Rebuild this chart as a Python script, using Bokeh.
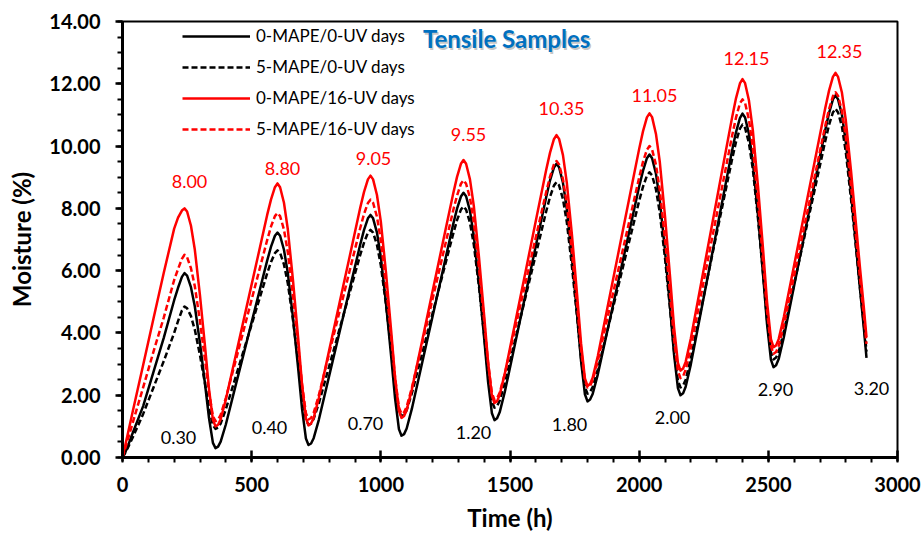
from bokeh.plotting import figure
from bokeh.models import (Range1d, FixedTicker, NumeralTickFormatter, Legend,
                          LegendItem, ColumnDataSource)
from bokeh.core.properties import value
from bokeh.embed import file_html
from bokeh.resources import INLINE

# ---------------- data ----------------
time_h = [
    0, 10, 20, 40, 80, 120, 160, 200, 215, 230, 240, 250, 265, 280, 300, 320, 335, 350,
    360, 370, 380, 400, 440, 480, 520, 560, 575, 590, 600, 610, 625, 640, 660, 680, 695, 710,
    720, 730, 740, 760, 800, 840, 880, 920, 935, 950, 960, 970, 985, 1000, 1020, 1040, 1055, 1070,
    1080, 1090, 1100, 1120, 1160, 1200, 1240, 1280, 1295, 1310, 1320, 1330, 1345, 1360, 1380, 1400, 1415, 1430,
    1440, 1450, 1460, 1480, 1520, 1560, 1600, 1640, 1655, 1670, 1680, 1690, 1705, 1720, 1740, 1760, 1775, 1790,
    1800, 1810, 1820, 1840, 1880, 1920, 1960, 2000, 2015, 2030, 2040, 2050, 2065, 2080, 2100, 2120, 2135, 2150,
    2160, 2170, 2180, 2200, 2240, 2280, 2320, 2360, 2375, 2390, 2400, 2410, 2425, 2440, 2460, 2480, 2495, 2510,
    2520, 2530, 2540, 2560, 2600, 2640, 2680, 2720, 2735, 2750, 2760, 2770, 2785, 2800, 2820, 2840, 2855, 2870,
    2880]

mape0_uv0 = [
    0, 0.15, 0.35, 0.80, 1.65, 2.75, 3.85, 5.05, 5.45, 5.80, 5.92, 5.84, 5.47, 4.85, 3.67, 2.32, 1.26, 0.47,
    0.30, 0.35, 0.51, 1.06, 2.38, 3.69, 5.01, 6.32, 6.77, 7.12, 7.22, 7.12, 6.67, 5.92, 4.49, 2.86, 1.56, 0.61,
    0.40, 0.45, 0.62, 1.21, 2.62, 4.02, 5.43, 6.83, 7.31, 7.68, 7.79, 7.68, 7.22, 6.44, 4.95, 3.25, 1.91, 0.91,
    0.70, 0.75, 0.93, 1.56, 3.04, 4.52, 6.00, 7.49, 7.99, 8.38, 8.50, 8.39, 7.92, 7.11, 5.58, 3.83, 2.44, 1.42,
    1.20, 1.26, 1.45, 2.11, 3.67, 5.23, 6.80, 8.36, 8.90, 9.31, 9.43, 9.32, 8.82, 7.98, 6.38, 4.55, 3.10, 2.03,
    1.80, 1.86, 2.04, 2.67, 4.18, 5.69, 7.19, 8.70, 9.21, 9.61, 9.73, 9.61, 9.11, 8.26, 6.64, 4.78, 3.31, 2.23,
    2.00, 2.06, 2.27, 2.99, 4.71, 6.43, 8.15, 9.87, 10.45, 10.90, 11.04, 10.92, 10.39, 9.49, 7.78, 5.83, 4.28, 3.14,
    2.90, 2.96, 3.16, 3.86, 5.52, 7.18, 8.84, 10.50, 11.06, 11.50, 11.63, 11.50, 11.00, 10.11, 8.51, 6.74, 5.39, 4.13,
    3.20]

mape5_uv0 = [
    0, 0.15, 0.30, 0.65, 1.40, 2.25, 3.10, 4.00, 4.38, 4.72, 4.85, 4.79, 4.54, 4.10, 3.28, 2.34, 1.59, 1.04,
    0.92, 0.96, 1.09, 1.55, 2.64, 3.73, 4.82, 5.91, 6.28, 6.56, 6.65, 6.57, 6.20, 5.59, 4.41, 3.07, 2.00, 1.22,
    1.05, 1.09, 1.24, 1.74, 2.93, 4.12, 5.31, 6.50, 6.90, 7.22, 7.31, 7.22, 6.83, 6.17, 4.91, 3.48, 2.34, 1.50,
    1.32, 1.37, 1.52, 2.06, 3.34, 4.62, 5.90, 7.18, 7.62, 7.96, 8.06, 7.96, 7.54, 6.83, 5.48, 3.93, 2.70, 1.79,
    1.60, 1.65, 1.82, 2.40, 3.77, 5.15, 6.52, 7.90, 8.37, 8.73, 8.84, 8.74, 8.30, 7.55, 6.12, 4.49, 3.20, 2.25,
    2.05, 2.10, 2.26, 2.83, 4.18, 5.53, 6.89, 8.24, 8.70, 9.05, 9.16, 9.06, 8.61, 7.85, 6.40, 4.74, 3.43, 2.46,
    2.25, 2.31, 2.50, 3.18, 4.78, 6.39, 7.99, 9.59, 10.14, 10.56, 10.69, 10.58, 10.09, 9.26, 7.67, 5.86, 4.43, 3.38,
    3.15, 3.21, 3.39, 4.04, 5.57, 7.10, 8.62, 10.15, 10.68, 11.08, 11.20, 11.08, 10.62, 9.80, 8.31, 6.68, 5.43, 4.26,
    3.40]

mape0_uv16 = [
    0, 0.37, 0.74, 1.49, 2.97, 4.46, 5.94, 7.35, 7.70, 7.93, 8.00, 7.90, 7.44, 6.67, 5.20, 3.52, 2.19, 1.21,
    1.00, 1.05, 1.23, 1.86, 3.34, 4.82, 6.30, 7.79, 8.29, 8.68, 8.80, 8.68, 8.18, 7.32, 5.69, 3.83, 2.35, 1.26,
    1.03, 1.09, 1.27, 1.91, 3.44, 4.96, 6.48, 8.01, 8.53, 8.93, 9.05, 8.93, 8.43, 7.57, 5.94, 4.07, 2.59, 1.50,
    1.27, 1.33, 1.52, 2.18, 3.75, 5.33, 6.90, 8.47, 9.01, 9.43, 9.55, 9.43, 8.93, 8.07, 6.43, 4.56, 3.08, 1.98,
    1.75, 1.81, 2.01, 2.70, 4.33, 5.96, 7.60, 9.23, 9.79, 10.22, 10.35, 10.23, 9.71, 8.82, 7.13, 5.20, 3.67, 2.54,
    2.30, 2.36, 2.56, 3.26, 4.93, 6.59, 8.25, 9.91, 10.48, 10.92, 11.05, 10.93, 10.39, 9.48, 7.75, 5.76, 4.19, 3.04,
    2.79, 2.86, 3.07, 3.82, 5.60, 7.38, 9.16, 10.93, 11.54, 12.01, 12.15, 12.02, 11.46, 10.51, 8.71, 6.64, 5.00, 3.80,
    3.54, 3.60, 3.80, 4.51, 6.18, 7.86, 9.53, 11.21, 11.78, 12.22, 12.35, 12.22, 11.71, 10.82, 9.21, 7.43, 6.07, 4.79,
    3.86]

mape5_uv16 = [
    0, 0.28, 0.56, 1.13, 2.25, 3.40, 4.50, 5.70, 6.05, 6.38, 6.51, 6.43, 6.08, 5.50, 4.37, 3.09, 2.08, 1.33,
    1.17, 1.22, 1.37, 1.91, 3.17, 4.44, 5.71, 6.98, 7.42, 7.75, 7.85, 7.75, 7.32, 6.59, 5.20, 3.61, 2.35, 1.42,
    1.22, 1.27, 1.43, 2.00, 3.34, 4.68, 6.02, 7.36, 7.82, 8.17, 8.28, 8.18, 7.73, 6.97, 5.53, 3.88, 2.57, 1.61,
    1.40, 1.45, 1.63, 2.23, 3.65, 5.08, 6.50, 7.93, 8.41, 8.79, 8.90, 8.79, 8.34, 7.56, 6.08, 4.39, 3.05, 2.06,
    1.85, 1.90, 2.08, 2.69, 4.15, 5.61, 7.07, 8.52, 9.02, 9.41, 9.52, 9.41, 8.94, 8.14, 6.61, 4.87, 3.49, 2.47,
    2.25, 2.30, 2.48, 3.10, 4.58, 6.05, 7.52, 8.99, 9.50, 9.88, 10.00, 9.89, 9.40, 8.58, 7.02, 5.23, 3.82, 2.77,
    2.55, 2.61, 2.82, 3.54, 5.24, 6.94, 8.64, 10.34, 10.92, 11.37, 11.50, 11.38, 10.85, 9.95, 8.23, 6.27, 4.72, 3.58,
    3.33, 3.39, 3.58, 4.25, 5.85, 7.45, 9.04, 10.64, 11.18, 11.60, 11.73, 11.61, 11.12, 10.28, 8.74, 7.04, 5.75, 4.54,
    3.65]

peak_times = [240, 600, 960, 1320, 1680, 2040, 2400, 2760]
peak_values = [8.00, 8.80, 9.05, 9.55, 10.35, 11.05, 12.15, 12.35]
trough_times = [360, 720, 1080, 1440, 1800, 2160, 2520, 2880]
trough_values = [0.30, 0.40, 0.70, 1.20, 1.80, 2.00, 2.90, 3.20]

series_names = ["0-MAPE/0-UV days", "5-MAPE/0-UV days",
                "0-MAPE/16-UV days", "5-MAPE/16-UV days"]
x_ticks = [0, 500, 1000, 1500, 2000, 2500, 3000]
y_ticks = [0, 2, 4, 6, 8, 10, 12, 14]

# ---------------- styles / label placement (screen px) ----------------
peak_dx = [5, 5, 3, 5, 5, 5, 4, 4]
peak_dy = [-27, -15, -17, -26, -27, -18, -21, -21]
trough_dx = [-37, -39, -36, -21, -18, -8, 2, 5]
trough_dy = [-11, -18, -12, 12, 23, 22, 22, 31]

FONT = "Lato"

p = figure(width=922, height=540, output_backend="svg", toolbar_location=None,
           x_range=Range1d(0, 3000), y_range=Range1d(0, 14),
           min_border_left=122, min_border_right=25,
           min_border_top=21, min_border_bottom=83)
p.background_fill_color = "white"
p.border_fill_color = "white"
p.xgrid.visible = False
p.ygrid.visible = False
p.outline_line_color = "black"
p.outline_line_width = 2

# axes
xa = p.xaxis[0]
ya = p.yaxis[0]
xa.ticker = FixedTicker(ticks=x_ticks, minor_ticks=list(range(0, 3001, 100)))
ya.ticker = FixedTicker(ticks=y_ticks, minor_ticks=[i * 0.5 for i in range(29)])
ya.formatter = NumeralTickFormatter(format="0.00")
for ax in (xa, ya):
    ax.axis_line_width = 3
    ax.axis_line_color = "black"
    ax.major_tick_line_width = 2.5
    ax.minor_tick_line_width = 2
    ax.major_tick_line_color = "black"
    ax.minor_tick_line_color = "black"
    ax.major_label_text_font = FONT
    ax.major_label_text_font_style = "bold"
    ax.major_label_text_font_size = "20px"
    ax.major_label_text_color = "black"
    ax.axis_label_text_font = FONT
    ax.axis_label_text_font_style = "bold"
    ax.axis_label_text_font_size = "24px"
    ax.axis_label_text_color = "black"
xa.major_tick_in = 7
xa.major_tick_out = 4
xa.minor_tick_in = 0
xa.minor_tick_out = 5
xa.major_label_standoff = 14
xa.axis_label = "Time (h)"
xa.axis_label_standoff = 8
ya.major_tick_in = 0
ya.major_tick_out = 7
ya.minor_tick_in = 0
ya.minor_tick_out = 5
ya.major_label_standoff = 15
ya.axis_label = "Moisture (%)"
ya.axis_label_standoff = 10

src = ColumnDataSource(dict(t=time_h, a=mape0_uv0, b=mape5_uv0,
                            c=mape0_uv16, d=mape5_uv16))
r1 = p.line("t", "a", source=src, line_color="black", line_width=2.5,
            line_join="round")
r2 = p.line("t", "b", source=src, line_color="black", line_width=2.5,
            line_dash="6 3", line_join="round")
r3 = p.line("t", "c", source=src, line_color="#FF0000", line_width=2.5,
            line_join="round")
r4 = p.line("t", "d", source=src, line_color="#FF0000", line_width=2.5,
            line_dash="6 3", line_join="round")

# value labels
psrc = ColumnDataSource(dict(x=peak_times, y=peak_values,
                             txt=["%.2f" % v for v in peak_values],
                             dx=peak_dx, dy=peak_dy))
p.text(x="x", y="y", text="txt", source=psrc, x_offset="dx", y_offset="dy",
       text_color="#FF0000", text_font=value(FONT), text_font_size="18px",
       text_align="center", text_baseline="middle")
tsrc = ColumnDataSource(dict(x=trough_times, y=trough_values,
                             txt=["%.2f" % v for v in trough_values],
                             dx=trough_dx, dy=trough_dy))
p.text(x="x", y="y", text="txt", source=tsrc, x_offset="dx", y_offset="dy",
       text_color="black", text_font=value(FONT), text_font_size="18px",
       text_align="center", text_baseline="middle")

# title inside the plot (with soft shadow)
p.text(x=[1487], y=[13.44], text=["Tensile Samples"], x_offset=1.5, y_offset=1.5,
       text_color="#7f7f7f", text_alpha=0.45, text_font=value(FONT),
       text_font_style="bold", text_font_size="24px",
       text_align="center", text_baseline="middle")
p.text(x=[1487], y=[13.44], text=["Tensile Samples"],
       text_color="#0070C0", text_font=value(FONT),
       text_font_style="bold", text_font_size="24px",
       text_align="center", text_baseline="middle")

legend = Legend(items=[LegendItem(label=n, renderers=[r]) for n, r in
                       zip(series_names, [r1, r2, r3, r4])],
                location=(60, 318), orientation="vertical",
                glyph_width=68, glyph_height=20, label_height=20,
                label_standoff=6, spacing=10, padding=0, margin=0,
                border_line_color=None, background_fill_alpha=0,
                label_text_font=FONT, label_text_font_size="17px",
                label_text_color="black")
p.add_layout(legend)

open("out.html", "w").write(file_html(p, INLINE))
